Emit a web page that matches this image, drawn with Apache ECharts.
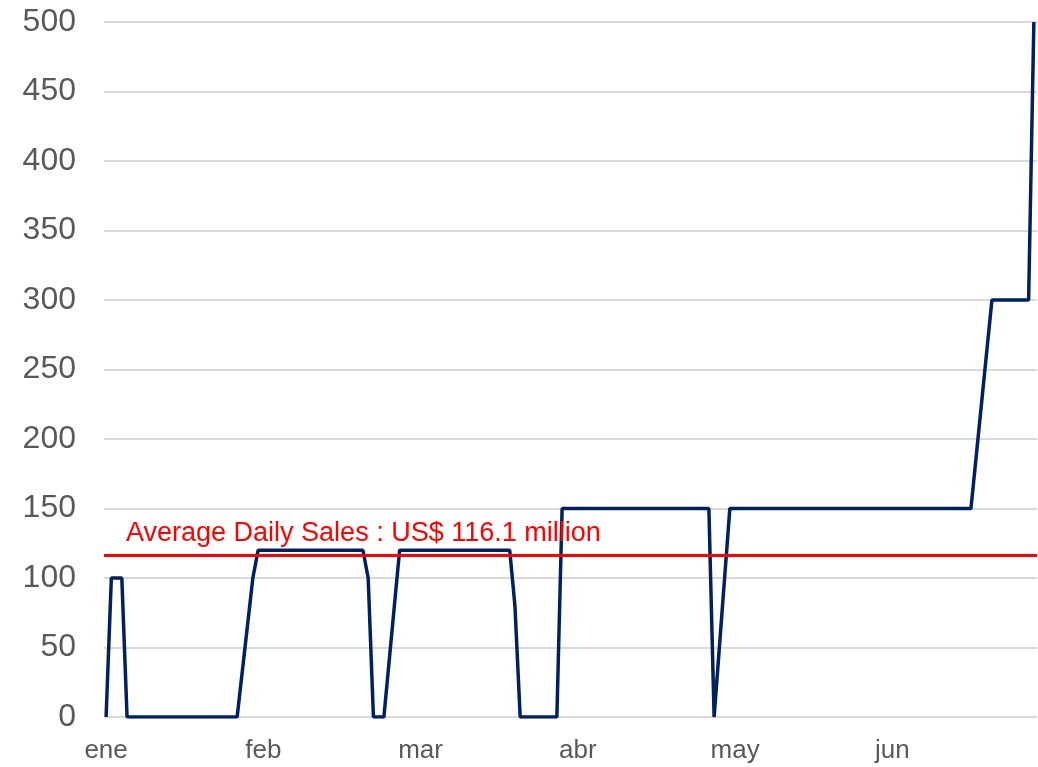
<!DOCTYPE html>
<html>
<head>
<meta charset="utf-8">
<title>Average Daily Sales</title>
<script src="https://cdn.jsdelivr.net/npm/echarts@6/dist/echarts.min.js"></script>
<style>
    html, body { margin: 0; padding: 0; background: #fff; }
    #lineChart { width: 1038px; height: 767px; }
</style>
</head>
<body>
<div id="lineChart"></div>
<script>
    // trading days where the line changes direction (flat stretches in between)
    var dates = ['2023-01-02', '2023-01-03', '2023-01-05', '2023-01-06', '2023-01-27', '2023-01-30',
        '2023-01-31', '2023-02-20', '2023-02-21', '2023-02-22', '2023-02-24', '2023-02-27',
        '2023-03-20', '2023-03-21', '2023-03-22', '2023-03-29', '2023-03-30', '2023-04-27',
        '2023-04-28', '2023-05-01', '2023-06-16', '2023-06-20', '2023-06-27', '2023-06-28'];
    var sales = [0, 100, 100, 0, 0, 100,
        120, 120, 100, 0, 0, 120,
        120, 80, 0, 0, 150, 150,
        0, 150, 150, 300, 300, 500];
    var monthLabels = ['ene', 'feb', 'mar', 'abr', 'may', 'jun'];
    var yTicks = [0, 50, 100, 150, 200, 250, 300, 350, 400, 450, 500];
    var average = 116.1;

    var DAY = 86400000;
    var start = Date.parse(dates[0]);
    // x axis counts days from the first date, a label every 30 days
    var points = dates.map(function (d, i) {
        return [(Date.parse(d) - start) / DAY, sales[i]];
    });
    var labelDays = monthLabels.map(function (m, i) { return i * 30; });

    var font = '"Liberation Sans", Arial, sans-serif';
    var myChart = echarts.init(document.getElementById('lineChart'), null, {renderer: 'canvas'});
    myChart.setOption({
        animation: false,
        textStyle: {fontFamily: font},
        grid: {left: 104, right: 1, top: 22, bottom: 50},
        xAxis: {
            type: 'value',
            min: -0.4,
            max: 177.6,
            axisLine: {show: false},
            axisTick: {show: false},
            splitLine: {show: false},
            axisLabel: {
                customValues: labelDays,
                formatter: function (v) {
                    return monthLabels[Math.round(v / 30)];
                },
                color: '#595959',
                fontSize: 26,
                fontFamily: font,
                margin: 21
            }
        },
        yAxis: {
            type: 'value',
            min: yTicks[0],
            max: yTicks[yTicks.length - 1],
            interval: 50,
            axisLine: {show: false},
            axisTick: {show: false},
            splitLine: {lineStyle: {color: '#d9d9d9', width: 2}},
            axisLabel: {
                color: '#595959',
                fontSize: 32,
                fontFamily: font,
                margin: 28
            }
        },
        series: [
            {
                name: 'Sales',
                type: 'line',
                data: points,
                symbol: 'none',
                lineStyle: {color: '#002060', width: 3.5},
                markLine: {
                    silent: true,
                    symbol: 'none',
                    lineStyle: {color: '#ff0000', width: 3, type: 'solid'},
                    label: {
                        position: 'insideStartTop',
                        distance: [22, 9],
                        formatter: 'Average Daily Sales : US$ ' + average + ' million',
                        color: '#ff0000',
                        fontSize: 27,
                        fontFamily: font
                    },
                    data: [{yAxis: average}]
                }
            }
        ]
    });
</script>
</body>
</html>
